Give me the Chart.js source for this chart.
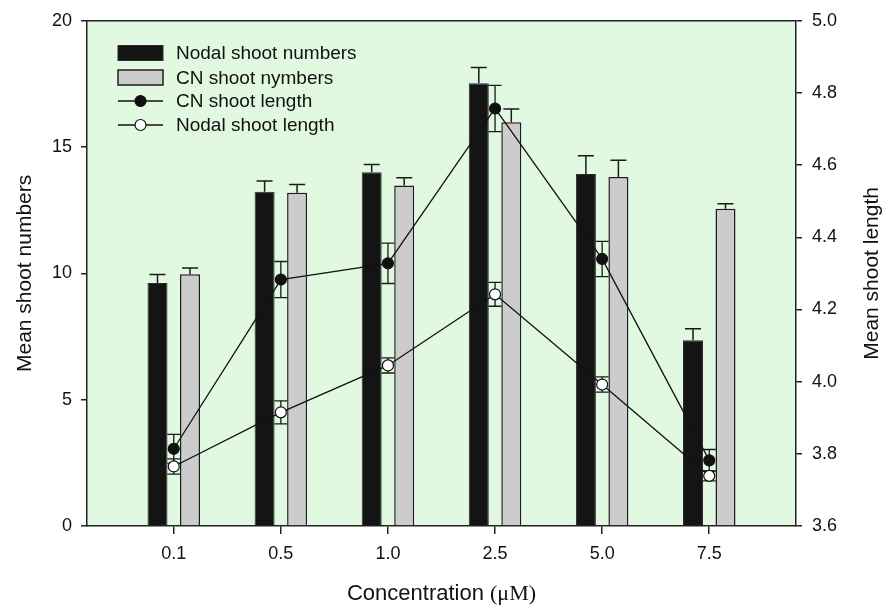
<!DOCTYPE html>
<html><head><meta charset="utf-8">
<script src="https://cdn.jsdelivr.net/npm/chart.js@4.4.0/dist/chart.umd.min.js"></script>
<style>html,body{margin:0;padding:0;background:#fff}#wrap{width:885px;height:609px}</style>
</head><body><div id="wrap"><canvas id="c" width="885" height="609"></canvas></div>
<script>
// ---- data ----
const concentrations = ['0.1', '0.5', '1.0', '2.5', '5.0', '7.5'];
const nodalShootNumbers    = [9.62, 13.23, 14.00, 17.53, 13.94, 7.35];
const nodalShootNumbersErr = [0.34, 0.43, 0.31, 0.62, 0.72, 0.46];
const cnShootNumbers       = [9.97, 13.19, 13.48, 15.98, 13.82, 12.56];
const cnShootNumbersErr    = [0.24, 0.33, 0.31, 0.53, 0.66, 0.20];
const cnShootLength        = [3.814, 4.283, 4.328, 4.757, 4.340, 3.782];
const cnShootLengthErr     = [0.040, 0.050, 0.056, 0.064, 0.049, 0.030];
const nodalShootLength     = [3.765, 3.915, 4.045, 4.242, 3.992, 3.739];
const nodalShootLengthErr  = [0.021, 0.032, 0.021, 0.033, 0.021, 0.014];
const leftTicks  = [0, 5, 10, 15, 20];
const rightTicks = [3.6, 3.8, 4.0, 4.2, 4.4, 4.6, 4.8, 5.0];
const rightTickLabels = ['3.6', '3.8', '4.0', '4.2', '4.4', '4.6', '4.8', '5.0'];

const SANS = "'Liberation Sans', Arial, Helvetica, sans-serif";
const SERIF = "'Liberation Serif', 'Times New Roman', serif";
Chart.defaults.font.family = SANS;
Chart.defaults.color = '#111';

const toXY = arr => arr.map((v, i) => ({ x: i + 1, y: v }));

const bgPlugin = {
  id: 'bg',
  beforeDraw(chart) {
    const { ctx, chartArea: a } = chart;
    ctx.save();
    ctx.fillStyle = '#e1f8e1';
    ctx.fillRect(a.left, a.top, a.right - a.left, a.bottom - a.top);
    ctx.restore();
  },
  afterDraw(chart) {
    const { ctx, chartArea: a } = chart;
    ctx.save();
    ctx.strokeStyle = '#222';
    ctx.lineWidth = 1.5;
    ctx.beginPath();
    ctx.moveTo(a.left, a.top); ctx.lineTo(a.right, a.top);
    ctx.stroke();
    ctx.restore();
  }
};

const errPlugin = {
  id: 'err',
  afterDatasetDraw(chart, args) {
    const ds = chart.data.datasets[args.index];
    if (ds.type !== 'bar') return;
    const { ctx } = chart;
    const ys = chart.scales[ds.yAxisID];
    ctx.save();
    ctx.strokeStyle = '#1a1a1a';
    ctx.lineWidth = 1.5;
    args.meta.data.forEach((el, i) => {
      const v = ds.data[i].y, e = ds.errors[i];
      const yc = ys.getPixelForValue(v + e);
      ctx.beginPath();
      ctx.moveTo(el.x, el.y); ctx.lineTo(el.x, yc);
      ctx.moveTo(el.x - 8, yc); ctx.lineTo(el.x + 8, yc);
      ctx.stroke();
    });
    ctx.restore();
  },
  beforeDatasetDraw(chart, args) {
    const ds = chart.data.datasets[args.index];
    if (ds.type !== 'line') return;
    const { ctx } = chart;
    const ys = chart.scales[ds.yAxisID];
    ctx.save();
    ctx.strokeStyle = '#1a1a1a';
    ctx.lineWidth = 1.3;
    args.meta.data.forEach((el, i) => {
      const v = ds.data[i].y, e = ds.errors[i];
      const y1 = ys.getPixelForValue(v + e), y2 = ys.getPixelForValue(v - e);
      ctx.beginPath();
      ctx.moveTo(el.x, y1); ctx.lineTo(el.x, y2);
      ctx.moveTo(el.x - 6.5, y1); ctx.lineTo(el.x + 6.5, y1);
      ctx.moveTo(el.x - 6.5, y2); ctx.lineTo(el.x + 6.5, y2);
      ctx.stroke();
    });
    ctx.restore();
  }
};

const legendPlugin = {
  id: 'customLegend',
  afterDraw(chart) {
    const { ctx } = chart;
    const dss = chart.data.datasets;
    const x0 = 118, x1 = 163, tx = 176;
    const rows = [53, 77.5, 101, 125];
    ctx.save();
    ctx.font = '19px ' + SANS;
    ctx.textBaseline = 'middle';
    ctx.fillStyle = '#111';
    dss.forEach((ds, i) => {
      const y = rows[i];
      if (ds.type === 'bar') {
        ctx.fillStyle = ds.backgroundColor;
        ctx.fillRect(x0, y - 7.5, x1 - x0, 15);
        ctx.strokeStyle = ds.borderColor;
        ctx.lineWidth = ds.borderWidth;
        ctx.strokeRect(x0, y - 7.5, x1 - x0, 15);
      } else {
        ctx.strokeStyle = ds.borderColor;
        ctx.lineWidth = ds.borderWidth;
        ctx.beginPath(); ctx.moveTo(x0, y); ctx.lineTo(x1, y); ctx.stroke();
        ctx.beginPath(); ctx.arc((x0 + x1) / 2, y, 5.5, 0, Math.PI * 2);
        ctx.fillStyle = ds.pointBackgroundColor; ctx.fill();
        ctx.strokeStyle = ds.pointBorderColor; ctx.lineWidth = 1.2; ctx.stroke();
      }
      ctx.fillStyle = '#111';
      ctx.fillText(ds.label, tx, y + 1);
    });
    ctx.restore();
  }
};

const titlesPlugin = {
  id: 'titles',
  afterDraw(chart) {
    const { ctx, chartArea: a } = chart;
    ctx.save();
    ctx.fillStyle = '#111';
    // right axis title, reading bottom-to-top
    ctx.save();
    ctx.translate(872, (a.top + a.bottom) / 2);
    ctx.rotate(-Math.PI / 2);
    ctx.font = '21px ' + SANS;
    ctx.textAlign = 'center';
    ctx.textBaseline = 'middle';
    ctx.fillText(chart.options.scales.y1.title.text, 0, 0);
    ctx.restore();
    // x axis title
    const t1 = 'Concentration ', t2 = '(\u03bcM)';
    ctx.font = '22px ' + SANS; const w1 = ctx.measureText(t1).width;
    ctx.font = '22px ' + SERIF; const w2 = ctx.measureText(t2).width;
    let x = (a.left + a.right) / 2 - (w1 + w2) / 2;
    ctx.textBaseline = 'middle';
    ctx.textAlign = 'left';
    ctx.font = '22px ' + SANS; ctx.fillText(t1, x, 594);
    ctx.font = '22px ' + SERIF; ctx.fillText(t2, x + w1, 594);
    ctx.restore();
  }
};

new Chart(document.getElementById('c'), {
  data: {
    datasets: [
      { type: 'bar', label: 'Nodal shoot numbers', data: toXY(nodalShootNumbers), errors: nodalShootNumbersErr,
        backgroundColor: '#141414', borderColor: '#2b2b2b', borderWidth: 1, yAxisID: 'y', order: 2 },
      { type: 'bar', label: 'CN shoot nymbers', data: toXY(cnShootNumbers), errors: cnShootNumbersErr,
        backgroundColor: '#cccccc', borderColor: '#1e1e1e', borderWidth: 1.5, yAxisID: 'y', order: 2 },
      { type: 'line', label: 'CN shoot length', data: toXY(cnShootLength), errors: cnShootLengthErr,
        borderColor: '#111', borderWidth: 1.3, pointRadius: 5.5, pointBackgroundColor: '#111',
        pointBorderColor: '#111', pointBorderWidth: 1.2, yAxisID: 'y1', order: 1, tension: 0 },
      { type: 'line', label: 'Nodal shoot length', data: toXY(nodalShootLength), errors: nodalShootLengthErr,
        borderColor: '#111', borderWidth: 1.3, pointRadius: 5.5, pointBackgroundColor: '#ffffff',
        pointBorderColor: '#111', pointBorderWidth: 1.2, yAxisID: 'y1', order: 0, tension: 0 }
    ]
  },
  options: {
    responsive: false, animation: false, devicePixelRatio: 1,
    layout: { padding: { top: 18, left: 0, right: 0, bottom: 0 } },
    plugins: { legend: { display: false }, tooltip: { enabled: false } },
    datasets: { bar: { categoryPercentage: 0.607, barPercentage: 0.615 } },
    scales: {
      x: {
        type: 'linear', position: 'bottom', min: 0.19, max: 6.81, offset: false,
        afterBuildTicks: s => { s.ticks = concentrations.map((_, i) => ({ value: i + 1 })); },
        ticks: { callback: (v, i) => concentrations[i], font: { size: 18 }, color: '#111', padding: 9, maxRotation: 0, autoSkip: false },
        grid: { offset: false, drawOnChartArea: false, tickLength: 8, color: '#222', lineWidth: 1.5 },
        border: { color: '#222', width: 1.5 },
        afterFit: s => { s.height = 83; }
      },
      y: {
        type: 'linear', position: 'left', min: 0, max: 20,
        afterBuildTicks: s => { s.ticks = leftTicks.map(v => ({ value: v })); },
        ticks: { callback: (v, i) => String(leftTicks[i]), font: { size: 18 }, color: '#111', padding: 9 },
        grid: { drawOnChartArea: false, tickLength: 6, color: '#222', lineWidth: 1.5 },
        border: { color: '#222', width: 1.5 },
        title: { display: true, text: 'Mean shoot numbers', font: { size: 21 }, color: '#111', padding: { top: 13, bottom: 0 } },
        afterFit: s => { s.width = 87; }
      },
      y1: {
        type: 'linear', position: 'right', min: 3.6, max: 5.0,
        afterBuildTicks: s => { s.ticks = rightTicks.map(v => ({ value: v })); },
        ticks: { callback: (v, i) => rightTickLabels[i], font: { size: 18 }, color: '#111', padding: 10 },
        grid: { drawOnChartArea: false, tickLength: 6, color: '#222', lineWidth: 1.5 },
        border: { color: '#222', width: 1.5 },
        title: { display: false, text: 'Mean shoot length' },
        afterFit: s => { s.width = 89; }
      }
    }
  },
  plugins: [bgPlugin, errPlugin, legendPlugin, titlesPlugin]
});
</script>
</body></html>
